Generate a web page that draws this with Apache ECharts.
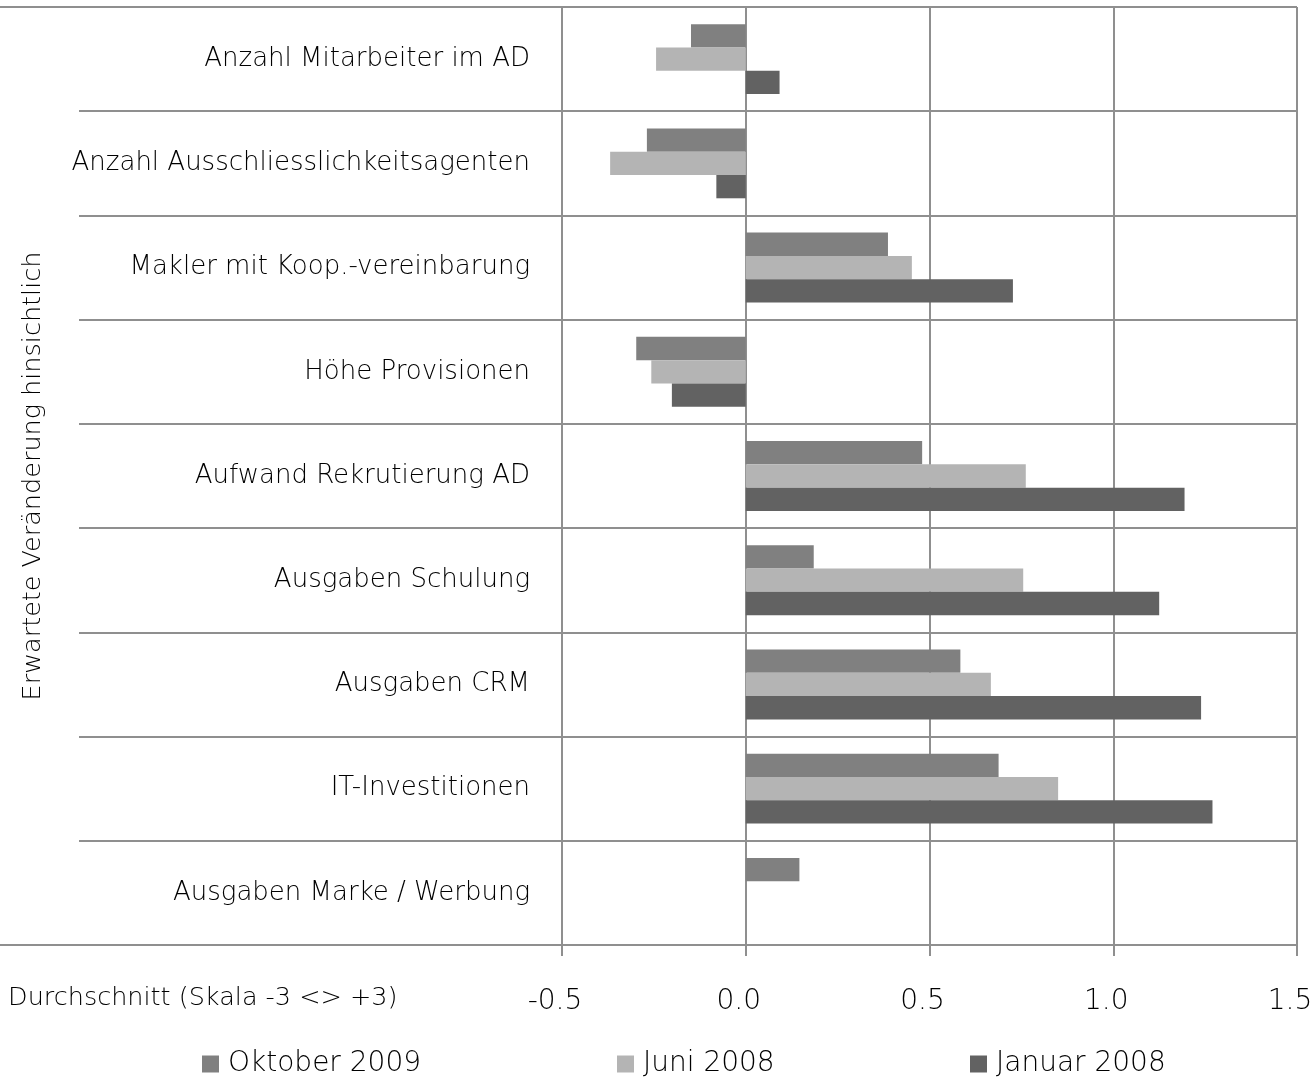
<!DOCTYPE html>
<html>
<head>
<meta charset="utf-8">
<script src="https://cdn.jsdelivr.net/npm/echarts@6/dist/echarts.min.js"></script>
<style>
html,body{margin:0;padding:0;background:#fff;}
#chart{width:1316px;height:1077px;}
</style>
</head>
<body>
<div id="chart"></div>
<script>
const categories = [
  'Anzahl Mitarbeiter im AD',
  'Anzahl Ausschliesslichkeitsagenten',
  'Makler mit Koop.-vereinbarung',
  'Höhe Provisionen',
  'Aufwand Rekrutierung AD',
  'Ausgaben Schulung',
  'Ausgaben CRM',
  'IT-Investitionen',
  'Ausgaben Marke / Werbung'
];
const seriesNames = ['Oktober 2009', 'Juni 2008', 'Januar 2008'];
const oktober2009 = [-0.149, -0.269, 0.387, -0.298, 0.480, 0.185, 0.584, 0.688, 0.146];
const juni2008    = [-0.244, -0.369, 0.452, -0.257, 0.762, 0.755, 0.667, 0.850, null];
const januar2008  = [0.092, -0.080, 0.727, -0.201, 1.194, 1.125, 1.239, 1.270, null];
const xTicks = { min: -0.5, max: 1.5, interval: 0.5 };

const FONT = '"DejaVu Sans", sans-serif';
const TXT = '#000';
const LINE = '#8f8f8f';
const colors = ['#808080', '#b4b4b4', '#626262'];

const chart = echarts.init(document.getElementById('chart'));
const legends = [197, 612, 965].map((l, i) => ({
  data: [seriesNames[i]], left: l, top: 1045, itemWidth: 17, itemHeight: 17,
  icon: 'rect', itemGap: 18,
  textStyle: { fontFamily: FONT, fontWeight: 200, fontSize: 28, color: TXT, padding: [0, 0, 0, 4] }
}));
chart.setOption({
  backgroundColor: '#fff',
  animation: false,
  textStyle: { fontFamily: FONT },
  grid: [
    { left: 562, right: 19, top: 7, bottom: 132, containLabel: false },
    { left: 79, width: 483, top: 7, bottom: 132, containLabel: false }
  ],
  legend: legends,
  xAxis: [{
    type: 'value', min: xTicks.min, max: xTicks.max, interval: xTicks.interval,
    axisLine: { show: true, lineStyle: { color: LINE, width: 2 } },
    axisTick: { show: true, length: 11, lineStyle: { color: LINE, width: 2 } },
    splitLine: { show: true, lineStyle: { color: LINE, width: 2 } },
    axisLabel: { formatter: v => v.toFixed(1), margin: 43, fontFamily: FONT, fontWeight: 200,
      fontSize: 28, color: TXT, padding: [0, 14, 0, 0] }
  }, {
    gridIndex: 1, type: 'value', show: false
  }],
  yAxis: [{
    type: 'category', inverse: true, data: categories,
    name: 'Erwartete Veränderung hinsichtlich', nameLocation: 'middle', nameGap: 516, nameRotate: 90,
    nameTextStyle: { fontFamily: FONT, fontWeight: 200, fontSize: 25.5, color: TXT },
    axisLine: { show: true, lineStyle: { color: LINE, width: 2 } },
    axisTick: { show: false },
    splitLine: { show: true, lineStyle: { color: LINE, width: 2 } },
    axisLabel: { margin: 32, fontFamily: FONT, fontWeight: 200, fontSize: 26, color: TXT }
  }, {
    gridIndex: 1, type: 'category', inverse: true, data: categories,
    axisLine: { show: false }, axisTick: { show: false }, axisLabel: { show: false },
    splitLine: { show: true, lineStyle: { color: LINE, width: 2 } }
  }],
  graphic: [
    { type: 'line', shape: { x1: 0, y1: 7, x2: 562, y2: 7 }, style: { stroke: LINE, lineWidth: 2 } },
    { type: 'line', shape: { x1: 0, y1: 945, x2: 562, y2: 945 }, style: { stroke: LINE, lineWidth: 2 } },
    { type: 'text', left: 8, top: 985, style: { text: 'Durchschnitt (Skala -3 <> +3)', font: '200 25.5px "DejaVu Sans", sans-serif', fill: TXT } }
  ],
  series: [oktober2009, juni2008, januar2008].map((d, i) => ({
    name: seriesNames[i], type: 'bar', data: d, barWidth: 23.3, barGap: '0%',
    itemStyle: { color: colors[i] }
  }))
});
</script>
</body>
</html>
